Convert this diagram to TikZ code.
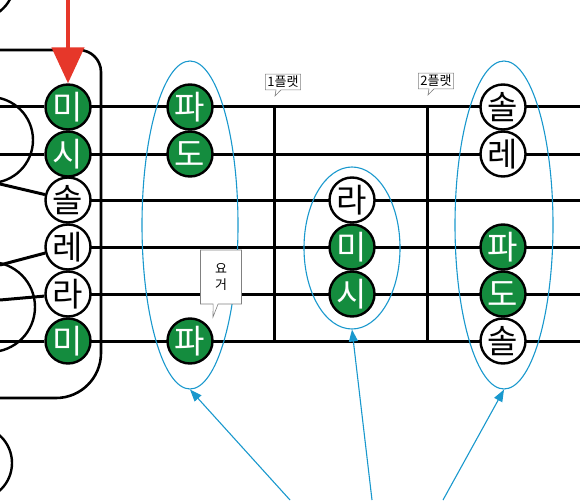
\documentclass[tikz,border=0pt]{standalone}
\usepackage{fontspec}
\setmainfont{Noto Sans CJK KR}
\usetikzlibrary{arrows.meta,shapes.geometric,shapes.callouts}
\definecolor{notegreen}{RGB}{20,140,62}
\definecolor{cueblue}{RGB}{25,152,205}
\definecolor{arrowred}{RGB}{230,55,42}
\tikzset{
    note/.style={circle,draw,line width=2.4pt,minimum size=45pt,inner sep=0pt,font=\fontsize{33}{33}\selectfont},
    hitnote/.style={note,fill=notegreen,text=white},
    opennote/.style={note,fill=white},
    strg/.style={line width=3pt},
    ring/.style={ellipse,draw=cueblue,line width=1.1pt,inner sep=0pt},
    tag/.style={rectangle callout,draw=gray,fill=white,line width=0.6pt,inner sep=2pt,callout pointer width=5pt,font=\fontsize{13}{16}\selectfont},
    cue/.style={draw=cueblue,line width=1.1pt,-{Triangle[width=9pt,length=12pt]}},
    redarrow/.style={draw=arrowred,line width=4.5pt,-{Triangle[width=32pt,length=36pt]}}
}
\begin{document}
\begin{tikzpicture}[x=1pt,y=-1pt]
    \useasboundingbox (0,0) rectangle (580,500);
    \clip (0,0) rectangle (580,500);
    \draw[line width=2.4pt] (-25,-20) circle[radius=40];
    \draw[line width=2.4pt] (-10,140) circle[radius=43];
    \draw[line width=2.4pt] (-10,307) circle[radius=45];
    \draw[line width=2.4pt] (-25,463) circle[radius=37];
    \foreach \y in {107,154,200,247,294,341}
        \draw[strg] (68,\y) -- (580,\y);
    \draw[strg] (274,107) -- (274,341);
    \draw[strg] (427,107) -- (427,341);
    \draw[line width=2.6pt,rounded corners=22pt] (0,50) -- (101,50) -- (101,200);
    \draw[line width=2.6pt,rounded corners=45pt] (101,200) -- (101,398) -- (0,398);
    \node[ring,minimum width=96pt,minimum height=328pt] (e1) at (190,225) {};
    \node[ring,minimum width=96pt,minimum height=162pt] (e2) at (352,248) {};
    \node[ring,minimum width=98pt,minimum height=328pt] (e3) at (504,225) {};
    \node[hitnote] (o1) at (68,107) {미};
    \node[hitnote] (o2) at (68,154) {시};
    \node[opennote] (o3) at (68,200) {솔};
    \node[opennote] (o4) at (68,247) {레};
    \node[opennote] (o5) at (68,294) {라};
    \node[hitnote] (o6) at (68,341) {미};
    \node[hitnote] (a1) at (190,107) {파};
    \node[hitnote] (a2) at (190,154) {도};
    \node[hitnote] (a6) at (190,341) {파};
    \node[opennote] (b3) at (352,200) {라};
    \node[hitnote] (b4) at (352,247) {미};
    \node[hitnote] (b5) at (352,294) {시};
    \node[opennote] (c1) at (503,107) {솔};
    \node[opennote] (c2) at (503,154) {레};
    \node[hitnote] (c4) at (503,247) {파};
    \node[hitnote] (c5) at (503,294) {도};
    \node[opennote] (c6) at (503,341) {솔};
    \draw[strg] (0,107) -- (o1);
    \draw[strg] (0,154) -- (o2);
    \draw[strg] (0,184) -- (o3);
    \draw[strg] (0,265) -- (o4);
    \draw[strg] (0,300) -- (o5);
    \draw[strg] (0,341) -- (o6);
    \node[tag,callout absolute pointer={(275,96)}] (f1) at (283,82) {1플랫};
    \node[tag,callout absolute pointer={(428,95)}] (f2) at (436,81) {2플랫};
    \node[tag,align=center,minimum width=41pt,minimum height=54pt,callout absolute pointer={(213,317)}] (here) at (221,277) {요\\거};
    \coordinate (top) at (68,0);
    \draw[redarrow] (top) -- (o1);
    \coordinate (p1) at (290,500);
    \coordinate (p2) at (372,500);
    \coordinate (p3) at (443,500);
    \draw[cue] (p1) -- (e1.south);
    \draw[cue] (p2) -- (e2.south);
    \draw[cue] (p3) -- (e3.south);
\end{tikzpicture}
\end{document}
